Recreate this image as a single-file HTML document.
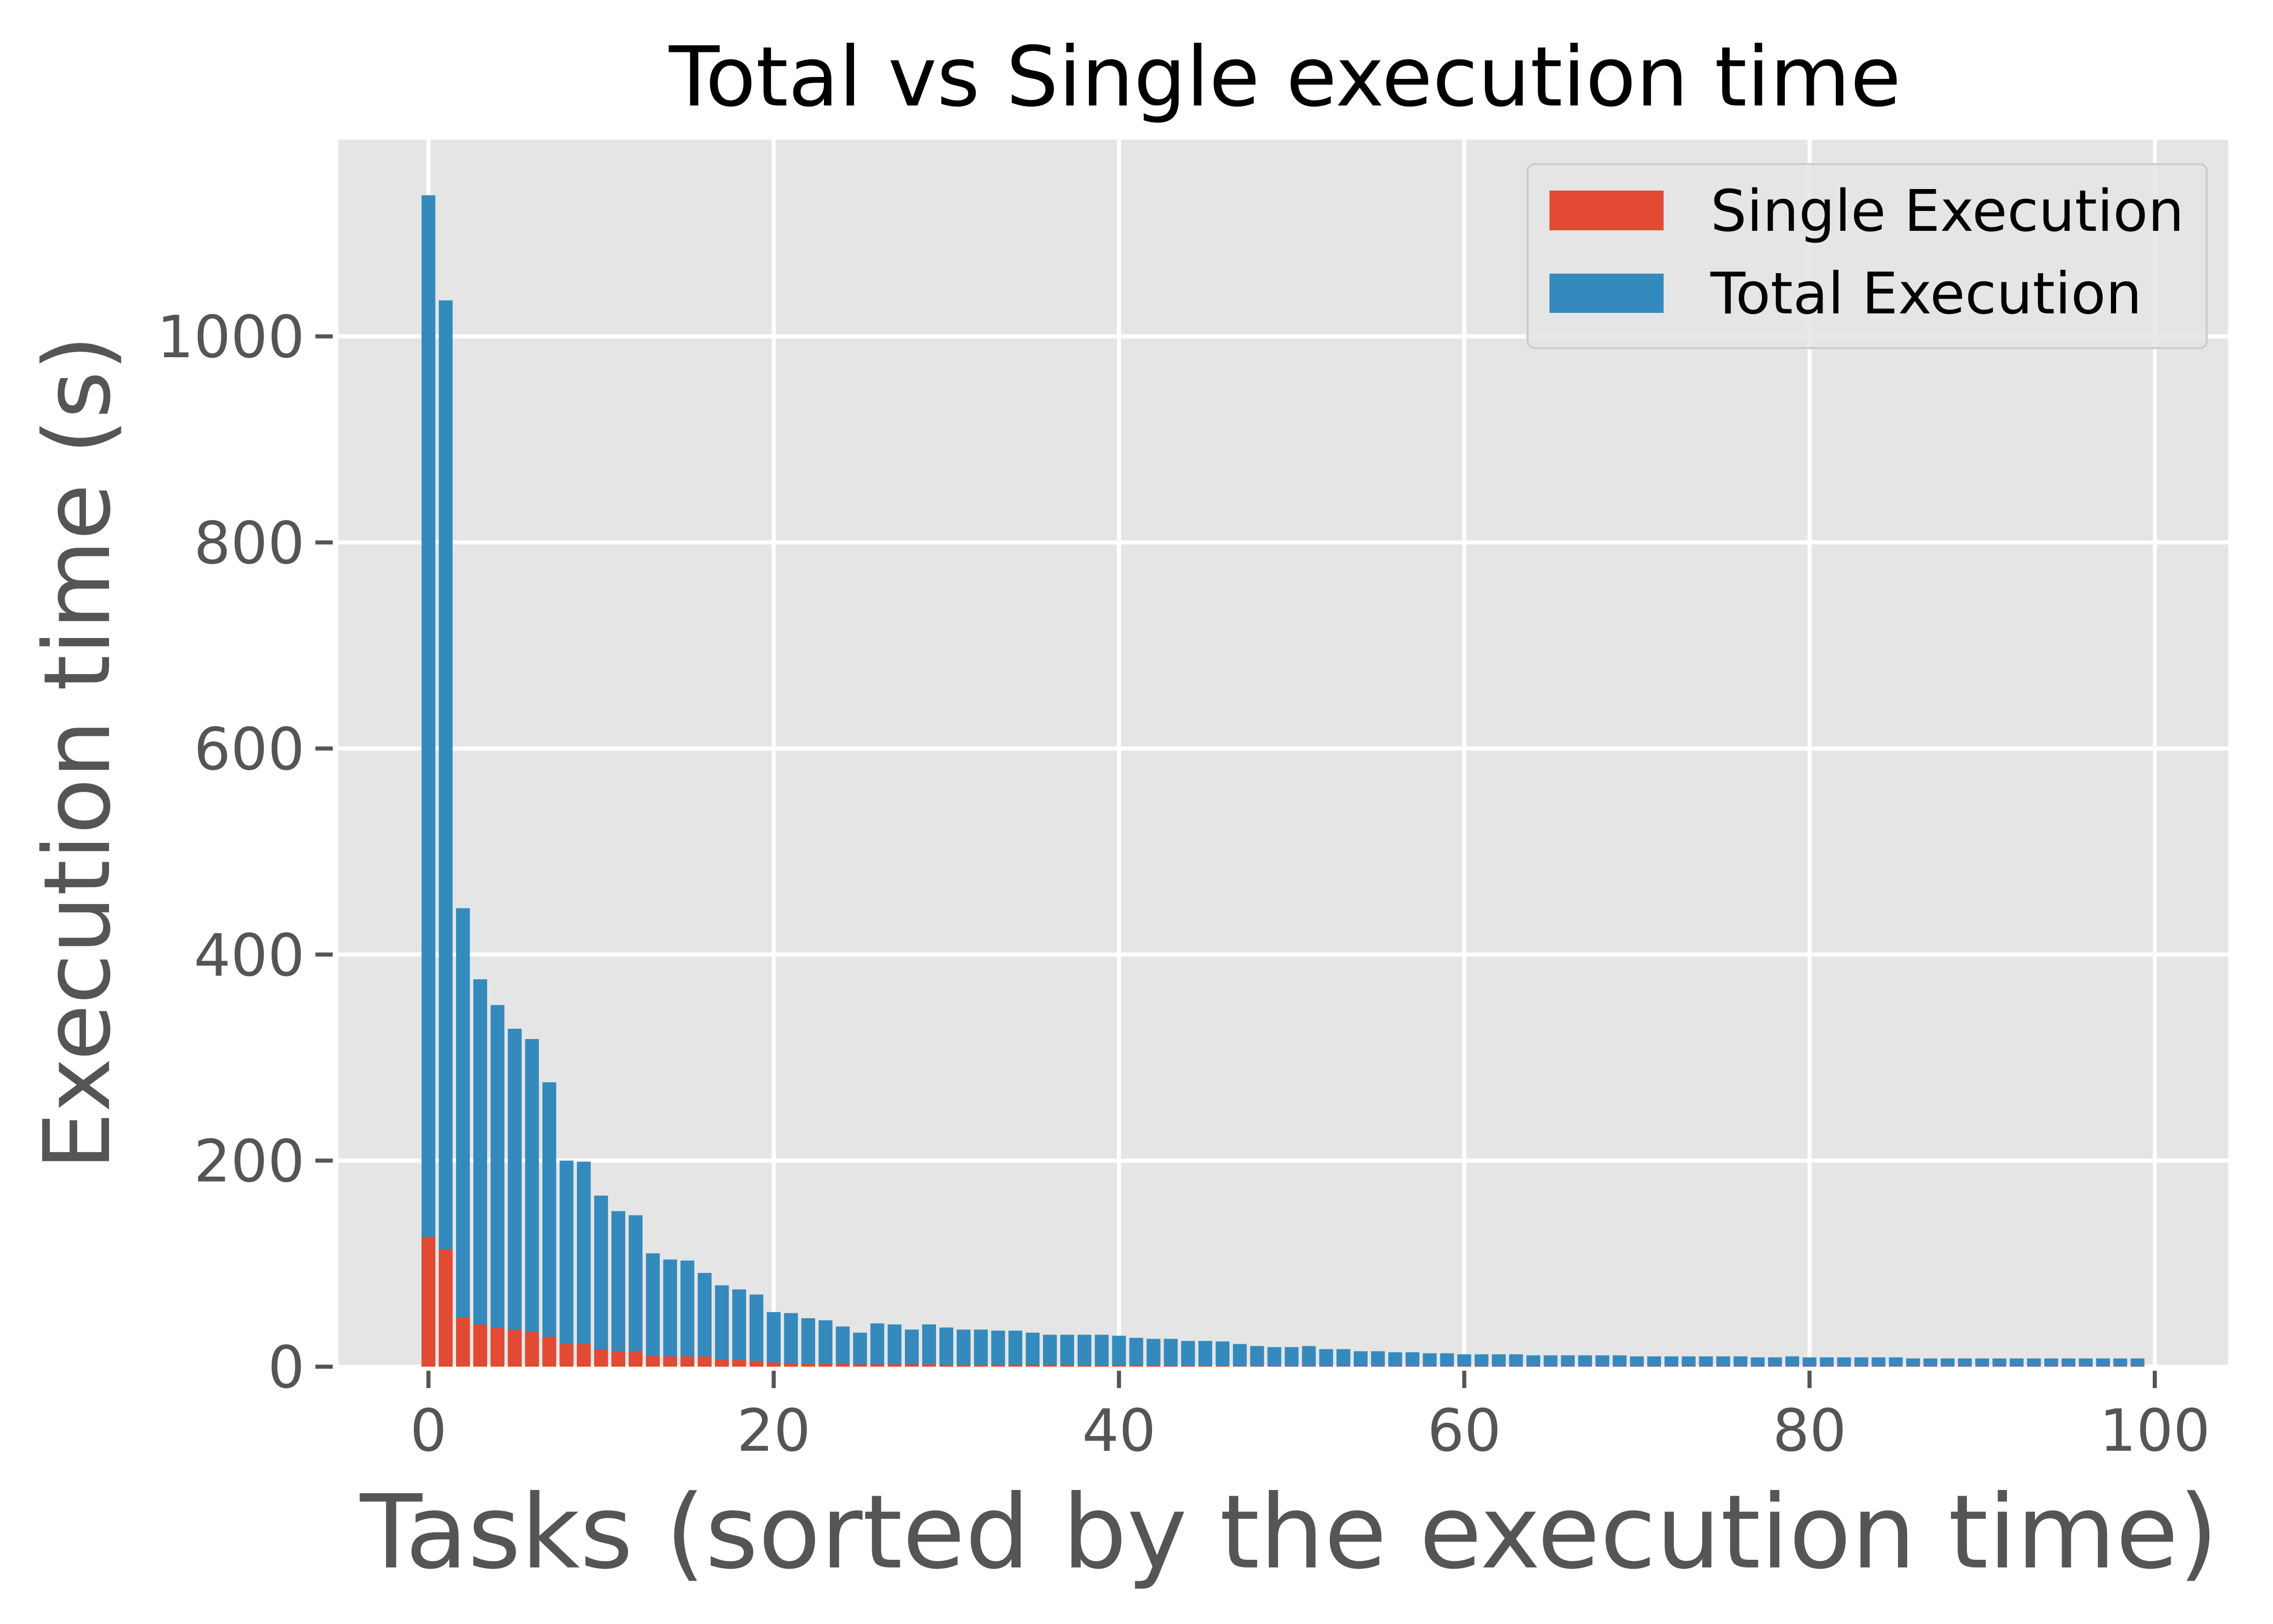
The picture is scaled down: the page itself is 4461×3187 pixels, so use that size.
<!DOCTYPE html>
<html><head><meta charset="utf-8"><style>
html,body{margin:0;padding:0;background:#fff;}
svg{display:block;font-family:"DejaVu Sans","Liberation Sans",sans-serif;}
</style></head><body>
<svg id="chart" width="4461" height="3187" viewBox="0 0 4461 3187" xmlns="http://www.w3.org/2000/svg">
<rect x="0" y="0" width="4461" height="3187" fill="#ffffff"/>
<rect x="664" y="274" width="3709" height="2408" fill="#e5e5e5"/>
<g id="grid"></g>
<g id="bars"></g>
<g id="axes"></g>
<text x="2522" y="207" font-size="162" text-anchor="middle" fill="#000">Total vs Single execution time</text>
<text x="2530" y="3076" font-size="200" text-anchor="middle" fill="#555555">Tasks (sorted by the execution time)</text>
<text transform="translate(214,1477) rotate(-90)" font-size="180" text-anchor="middle" fill="#555555">Execution time (s)</text>
<g>
<rect x="2998" y="322" width="1333" height="361" rx="14" fill="#e5e5e5" fill-opacity="0.85" stroke="#cccccc" stroke-width="4"/>
<rect x="3041" y="374" width="224" height="78" fill="#E24A33"/>
<text x="3357" y="453" font-size="112" fill="#000">Single Execution</text>
<rect x="3041" y="537" width="224" height="77" fill="#348ABD"/>
<text x="3357" y="615" font-size="112" fill="#000">Total Execution</text>
</g>
</svg>
<script>
const totalValues = [1137,1035,445,376,351,328,318,276,200,199,166,151,147,110,104,103,91,79,75,70,
53,52,47,45,39,33,42,41,36,41,38,36,36,35,35,33,31,31,31,31,
30,28,27,27,25,25,24.5,22,20,19,19,20,17,17,15,15,14,14,13,13,
12,12,12,12,11,11,11,11,11,11,10,10,10,10,10,10,10,9,9,10,
9,9,9,9,9,9,8,8,8,8,8,8,8,8,8,8,8,8,8,8];
const singleValues = [126,114,48,41,37.5,36,34,29,22,22,17,15,15,10.5,10,10,10,7,6.5,5.5,
4,3.5,3,3,3,2.3,2.3,2.3,2.3,2.3,1.8,1.8,1.8,1.8,1.8,1.8,1.8,1.8,1.3,1.3,
1.3,1.3,1.3,0.8,0.8,0.8,0.8,0.3,0.3,0.3,0.3,0.3,0.3,0.3,0.3,0.3,0.3,0.3,0.3,0.3,
0.3,0.3,0.3,0.3,0.3,0.3,0.3,0.3,0.3,0.3,0.3,0.3,0.3,0.3,0.3,0.3,0.3,0.3,0.3,0.3,
0.3,0.3,0.3,0.3,0.3,0.3,0.3,0.3,0.3,0.3,0.3,0.3,0.3,0.3,0.3,0.3,0.3,0.3,0.3,0.3];
const xTicks = [0,20,40,60,80,100];
const yTicks = [0,200,400,600,800,1000];

const NS = "http://www.w3.org/2000/svg";
const L = 664, R = 4373, T = 274, B = 2682;
const xMin = -5.22, xMax = 104.25, yMin = 0, yMax = 1191;
function xs(v){ return L + (v - xMin) / (xMax - xMin) * (R - L); }
function ys(v){ return B - (v - yMin) / (yMax - yMin) * (B - T); }
function mk(tag, attrs, parent){
  const e = document.createElementNS(NS, tag);
  for (const k in attrs) e.setAttribute(k, attrs[k]);
  parent.appendChild(e);
  return e;
}
const grid = document.getElementById('grid');
const axes = document.getElementById('axes');
const bars = document.getElementById('bars');

xTicks.forEach(function(t){
  const x = xs(t);
  const g = mk('line', {x1:x, x2:x, y1:T, y2:B, stroke:'#ffffff', 'stroke-width':8}, grid);
  
  
  const tk = mk('line', {x1:x, x2:x, y1:B+8, y2:B+42, stroke:'#555555', 'stroke-width':8}, axes);
  
  
  const lb = mk('text', {x:x, y:2847, 'font-size':114, 'text-anchor':'middle', fill:'#555555'}, axes);
  lb.textContent = String(t);
  
  
});
yTicks.forEach(function(t){
  const y = ys(t);
  const g = mk('line', {x1:L, x2:R, y1:y, y2:y, stroke:'#ffffff', 'stroke-width':8}, grid);
  
  
  const tk = mk('line', {x1:619, x2:653, y1:y, y2:y, stroke:'#555555', 'stroke-width':8}, axes);
  
  
  const lb = mk('text', {x:598, y:y+41, 'font-size':114, 'text-anchor':'end', fill:'#555555'}, axes);
  lb.textContent = String(t);
  
  
});

const w = 0.8;
totalValues.forEach(function(v, i){
  const x0 = xs(i - w/2), x1 = xs(i + w/2);
  const r = mk('rect', {x:x0, y:ys(v), width:x1 - x0, height:ys(0) - ys(v), fill:'#348ABD'}, bars);
  
  
});
singleValues.forEach(function(v, i){
  const x0 = xs(i - w/2), x1 = xs(i + w/2);
  const r = mk('rect', {x:x0, y:ys(v), width:x1 - x0, height:ys(0) - ys(v), fill:'#E24A33'}, bars);
  
  
});
</script>
</body></html>
